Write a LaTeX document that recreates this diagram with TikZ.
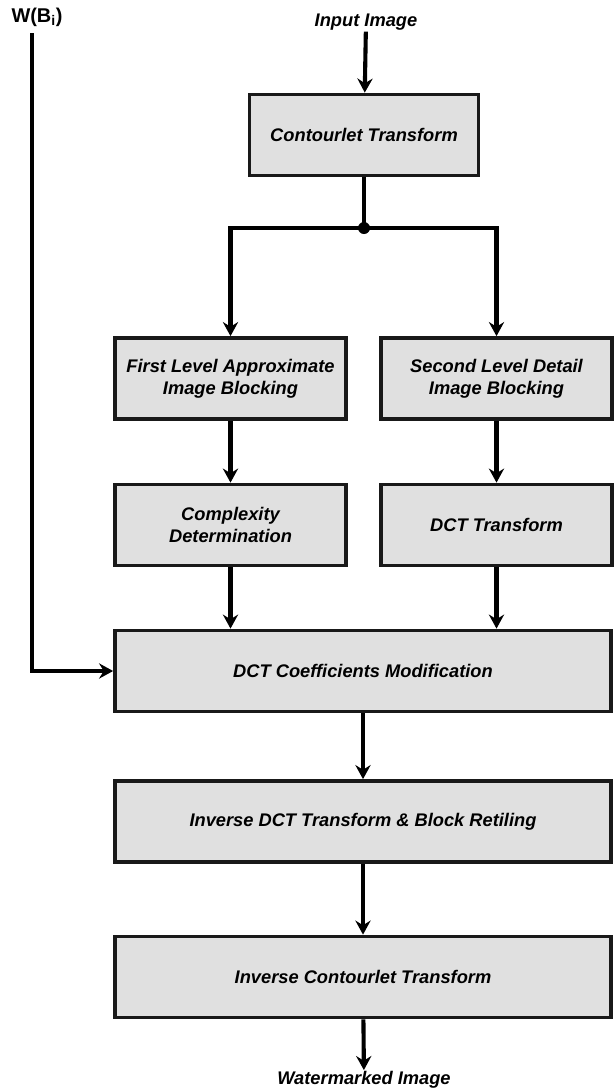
\documentclass[tikz,border=0pt]{standalone}
\usepackage{fontspec}
\setmainfont{Liberation Sans}
\usetikzlibrary{arrows.meta}

\definecolor{boxgray}{HTML}{E0E0E0}
\newcommand{\blockfont}{\fontsize{15.6}{18.8}\selectfont\bfseries\itshape}
\def\pxu{0.03cm}

\begin{document}
\begin{tikzpicture}[
  x=0.03cm, y=-0.03cm,
  % ---- styles ----
  block/.style 2 args={%
    draw=black!90, fill=boxgray, line width=3.2pt,
    minimum width=#1, minimum height=#2,
    inner sep=2pt, font=\blockfont, align=center,
  },
  flow/.style={line width=3.5pt, -{Stealth[length=12pt, width=13pt, inset=4pt]}},
  wire/.style={line width=3.5pt},
  iolabel/.style={font=\blockfont, inner sep=1pt},
  dot/.style={circle, fill=black, inner sep=0pt, minimum size=12*\pxu},
]

\def\hw{231*\pxu}   % half-row box width
\def\fw{496*\pxu}   % full-row box width
\def\bh{81*\pxu}    % box height

\useasboundingbox (0,0) rectangle (615,1089);

% =========================================================
% input side
% =========================================================
\node[iolabel] (in) at (366,22) {Input Image};
\node[block={229*\pxu}{\bh}] (ct) at (364,135) {Contourlet Transform};
\node[dot] (junc) at (364,228) {};

% =========================================================
% two branches
% =========================================================
\node[block={\hw}{\bh}] (fl) at (230.5,378.5) {First Level Approximate\\Image Blocking};
\node[block={\hw}{\bh}] (sl) at (496.5,378.5) {Second Level Detail\\Image Blocking};
\node[block={\hw}{\bh}] (cd) at (230.5,525) {Complexity\\Determination};
\node[block={\hw}{\bh}] (dt) at (496.5,525) {DCT Transform};

% =========================================================
% main column
% =========================================================
\node[block={\fw}{\bh}] (cm) at (363,671) {DCT Coefficients Modification};
\node[block={\fw}{\bh}] (id) at (363,821.5) {Inverse DCT Transform \& Block Retiling};
\node[block={\fw}{\bh}] (ic) at (363,977) {Inverse Contourlet Transform};
\node[iolabel] (out) at (364,1080) {Watermarked Image};

% watermark input
\node[font=\fontsize{17}{20}\selectfont\bfseries, inner sep=1pt] (wb) at (37,17)
    {W(B\textsubscript{i})};
\coordinate (wtop) at (32,33);

% =========================================================
% connectors
% =========================================================
\draw[flow] (in) -- (ct);
\draw[wire] (ct) -- (junc.center);
\draw[flow] (junc.center) -| (fl.north);
\draw[flow] (junc.center) -| (sl.north);
\draw[flow] (fl) -- (cd);
\draw[flow] (sl) -- (dt);
\draw[flow] (cd.south) -- (cd.south |- cm.north);
\draw[flow] (dt.south) -- (dt.south |- cm.north);
\draw[flow] (wtop) |- (cm.west);
\draw[flow] (cm) -- (id);
\draw[flow] (id) -- (ic);
\draw[flow] (ic) -- (out);

\end{tikzpicture}
\end{document}
